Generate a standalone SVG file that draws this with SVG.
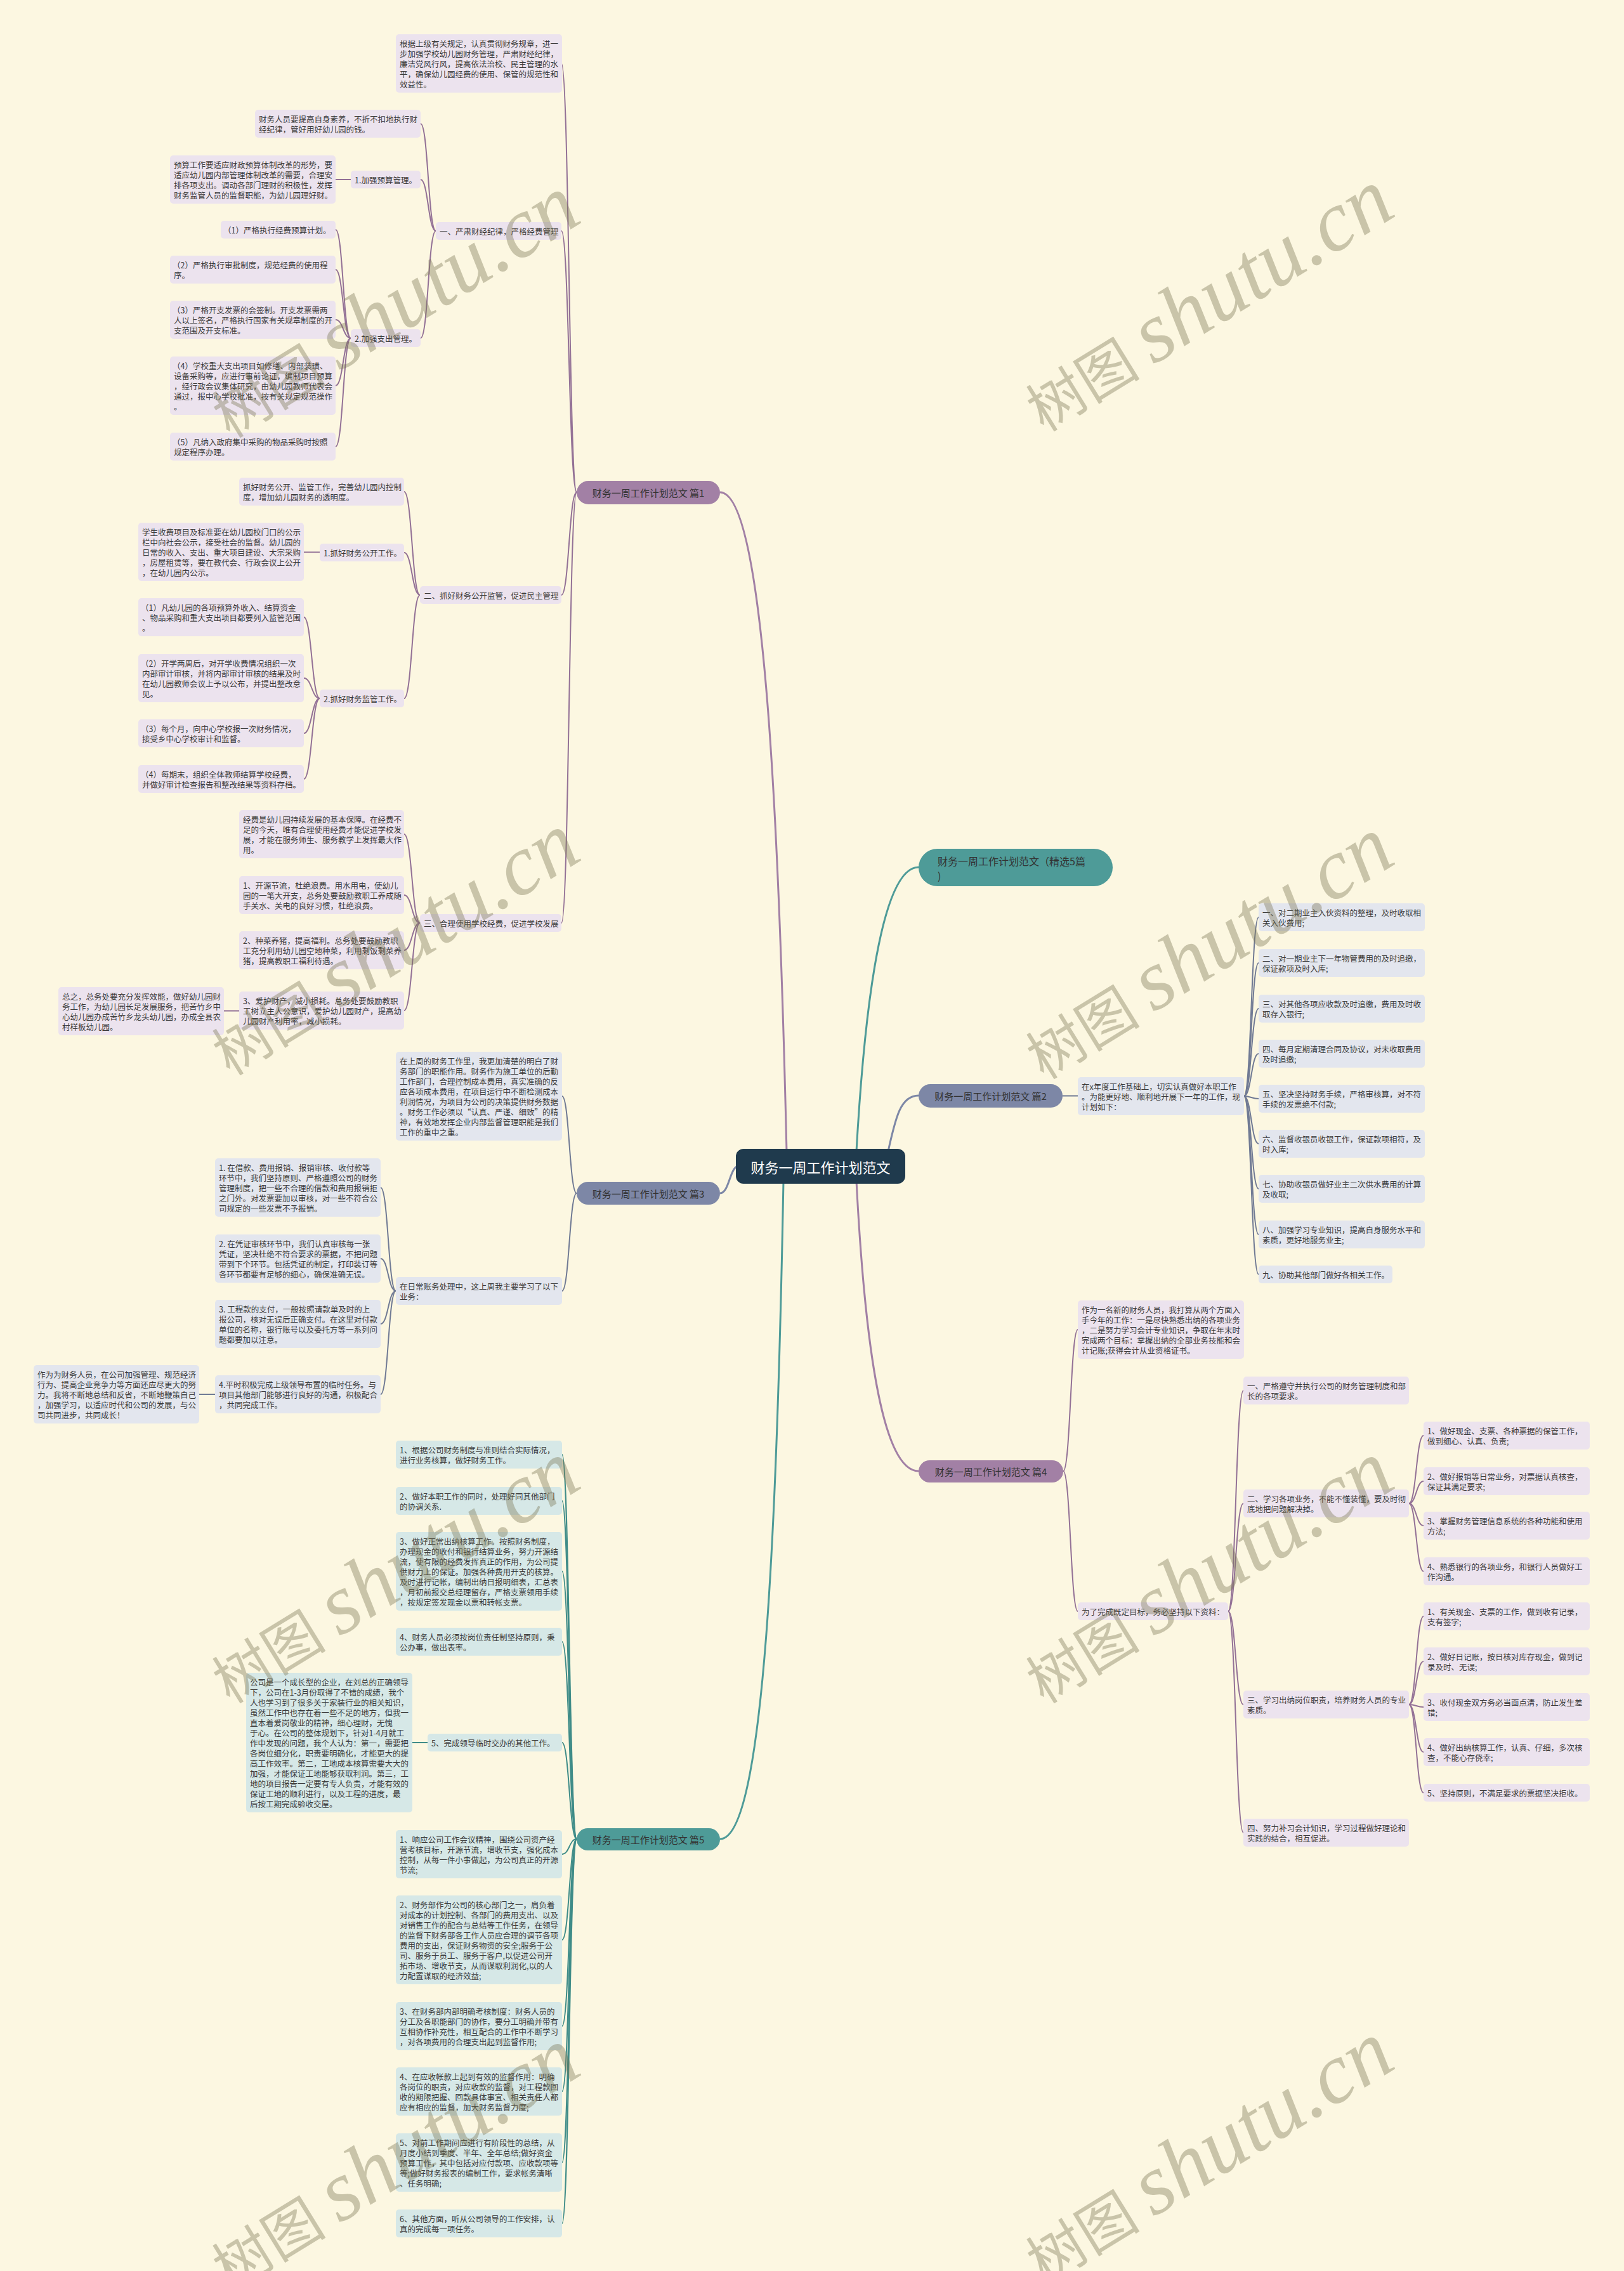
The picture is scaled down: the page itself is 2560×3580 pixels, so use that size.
<svg xmlns="http://www.w3.org/2000/svg" width="2560" height="3580" viewBox="0 0 2560 3580">
<style>
.t{font-family:"Noto Sans CJK SC","Noto Sans",sans-serif;font-size:12.5px;fill:#3a3a3a;dominant-baseline:central}
.bt{font-family:"Noto Sans CJK SC","Noto Sans",sans-serif;font-size:15px;fill:#333;dominant-baseline:central;text-anchor:middle}
.rt{font-family:"Noto Sans CJK SC","Noto Sans",sans-serif;font-size:22px;fill:#fff;dominant-baseline:central;text-anchor:middle}
.m{fill:#ece3ee}.s{fill:#e3e6ee}.g{fill:#d6e8e7}
.cm{fill:none;stroke:#937196;stroke-width:2}
.cs{fill:none;stroke:#707a94;stroke-width:2}
.cg{fill:none;stroke:#3f8c88;stroke-width:2}
.r1{fill:none;stroke-width:3}
.wm{font-family:"Liberation Serif","Noto Sans CJK SC",serif;font-style:italic;fill:#787350;opacity:0.38;text-anchor:middle}
</style>
<rect width="2560" height="3580" fill="#fcf7e1"/>
<g id="connectors">
<path class="r1" stroke="#a280a5" d="M1240 1815 C1228 1300 1205 776 1135 776"/>
<path class="r1" stroke="#7d87a6" d="M1165 1838 C1150 1838 1150 1881 1135 1881"/>
<path class="r1" stroke="#4e9b98" d="M1235 1862 C1225 2400 1205 2899 1135 2899"/>
<path class="r1" stroke="#4e9b98" d="M1350 1815 C1365 1550 1395 1367 1448 1367"/>
<path class="r1" stroke="#7d87a6" d="M1400 1815 C1412 1760 1420 1727 1448 1727"/>
<path class="r1" stroke="#a280a5" d="M1350 1862 C1365 2150 1395 2319 1448 2319"/>
<g class="cm">
<path d="M909 776 C897 776 897 100 885 100"/>
<path d="M909 776 C897 776 897 364 885 364"/>
<path d="M909 776 C897 776 897 938 885 938"/>
<path d="M909 776 C897 776 897 1455 885 1455"/>
<path d="M687 364 C675 364 675 195 663 195"/>
<path d="M687 364 C675 364 675 283 663 283"/>
<path d="M687 364 C675 364 675 533 663 533"/>
<path d="M553 283 H529"/>
<path d="M553 533 C541 533 541 362 529 362"/>
<path d="M553 533 C541 533 541 425 529 425"/>
<path d="M553 533 C541 533 541 504 529 504"/>
<path d="M553 533 C541 533 541 608 529 608"/>
<path d="M553 533 C541 533 541 704 529 704"/>
<path d="M662 938 C649.5 938 649.5 775 637 775"/>
<path d="M662 938 C649.5 938 649.5 871 637 871"/>
<path d="M662 938 C649.5 938 649.5 1101 637 1101"/>
<path d="M504 870.5 H479"/>
<path d="M504 1101 C491.5 1101 491.5 973 479 973"/>
<path d="M504 1101 C491.5 1101 491.5 1069 479 1069"/>
<path d="M504 1101 C491.5 1101 491.5 1156 479 1156"/>
<path d="M504 1101 C491.5 1101 491.5 1228 479 1228"/>
<path d="M662 1455 C649.5 1455 649.5 1315 637 1315"/>
<path d="M662 1455 C649.5 1455 649.5 1411 637 1411"/>
<path d="M662 1455 C649.5 1455 649.5 1498 637 1498"/>
<path d="M662 1455 C649.5 1455 649.5 1593 637 1593"/>
<path d="M377 1593.5 H353"/>
<path d="M1676 2319 C1687.5 2319 1687.5 2096 1699 2096"/>
<path d="M1676 2319 C1687.5 2319 1687.5 2540 1699 2540"/>
<path d="M1936 2540 C1948 2540 1948 2192 1960 2192"/>
<path d="M1936 2540 C1948 2540 1948 2370 1960 2370"/>
<path d="M1936 2540 C1948 2540 1948 2687 1960 2687"/>
<path d="M1936 2540 C1948 2540 1948 2889 1960 2889"/>
<path d="M2221 2370 C2232.5 2370 2232.5 2263 2244 2263"/>
<path d="M2221 2370 C2232.5 2370 2232.5 2335 2244 2335"/>
<path d="M2221 2370 C2232.5 2370 2232.5 2405 2244 2405"/>
<path d="M2221 2370 C2232.5 2370 2232.5 2477 2244 2477"/>
<path d="M2221 2687 C2232.5 2687 2232.5 2548 2244 2548"/>
<path d="M2221 2687 C2232.5 2687 2232.5 2619 2244 2619"/>
<path d="M2221 2687 C2232.5 2687 2232.5 2691 2244 2691"/>
<path d="M2221 2687 C2232.5 2687 2232.5 2762 2244 2762"/>
<path d="M2221 2687 C2232.5 2687 2232.5 2826 2244 2826"/>
</g>
<g class="cs">
<path d="M909 1881 C897.5 1881 897.5 1728 886 1728"/>
<path d="M909 1881 C897.5 1881 897.5 2035 886 2035"/>
<path d="M624 2035 C612 2035 612 1872 600 1872"/>
<path d="M624 2035 C612 2035 612 1984 600 1984"/>
<path d="M624 2035 C612 2035 612 2087 600 2087"/>
<path d="M624 2035 C612 2035 612 2198 600 2198"/>
<path d="M339 2198 H314"/>
<path d="M1675 1727.5 H1699"/>
<path d="M1961 1728 C1972.5 1728 1972.5 1446 1984 1446"/>
<path d="M1961 1728 C1972.5 1728 1972.5 1518 1984 1518"/>
<path d="M1961 1728 C1972.5 1728 1972.5 1590 1984 1590"/>
<path d="M1961 1728 C1972.5 1728 1972.5 1661 1984 1661"/>
<path d="M1961 1728 C1972.5 1728 1972.5 1732 1984 1732"/>
<path d="M1961 1728 C1972.5 1728 1972.5 1803 1984 1803"/>
<path d="M1961 1728 C1972.5 1728 1972.5 1874 1984 1874"/>
<path d="M1961 1728 C1972.5 1728 1972.5 1946 1984 1946"/>
<path d="M1961 1728 C1972.5 1728 1972.5 2009 1984 2009"/>
</g>
<g class="cg">
<path d="M909 2899 C897.5 2899 897.5 2293 886 2293"/>
<path d="M909 2899 C897.5 2899 897.5 2366 886 2366"/>
<path d="M909 2899 C897.5 2899 897.5 2477 886 2477"/>
<path d="M909 2899 C897.5 2899 897.5 2588 886 2588"/>
<path d="M909 2899 C897.5 2899 897.5 2747 886 2747"/>
<path d="M909 2899 C897.5 2899 897.5 2923 886 2923"/>
<path d="M909 2899 C897.5 2899 897.5 3058 886 3058"/>
<path d="M909 2899 C897.5 2899 897.5 3194 886 3194"/>
<path d="M909 2899 C897.5 2899 897.5 3297 886 3297"/>
<path d="M909 2899 C897.5 2899 897.5 3409 886 3409"/>
<path d="M909 2899 C897.5 2899 897.5 3505 886 3505"/>
<path d="M674 2747 H650"/>
</g>
</g>
<g id="root"><rect x="1160" y="1811" width="267" height="55" rx="12" fill="#1f3a4d"/><text class="rt" x="1293.5" y="1838.5">财务一周工作计划范文</text></g>
<g id="b-jx"><rect x="1448" y="1338" width="306" height="59" rx="29.5" fill="#4e9b98"/><text class="bt" style="font-size:16px;text-anchor:start" x="1478" y="1357"><tspan x="1478">财务一周工作计划范文（精选5篇</tspan><tspan x="1478" dy="23">)</tspan></text></g>
<g id="b-1"><rect x="909" y="758" width="226" height="37" rx="18.5" fill="#a280a5"/><text class="bt" x="1022" y="776.5">财务一周工作计划范文 篇1</text></g>
<g id="b-2"><rect x="1448" y="1709" width="227" height="37" rx="18.5" fill="#7d87a6"/><text class="bt" x="1561.5" y="1727.5">财务一周工作计划范文 篇2</text></g>
<g id="b-3"><rect x="909" y="1863" width="226" height="36" rx="18" fill="#7d87a6"/><text class="bt" x="1022" y="1881">财务一周工作计划范文 篇3</text></g>
<g id="b-4"><rect x="1448" y="2302" width="228" height="35" rx="17.5" fill="#a280a5"/><text class="bt" x="1562" y="2319.5">财务一周工作计划范文 篇4</text></g>
<g id="b-5"><rect x="909" y="2882" width="226" height="35" rx="17.5" fill="#4e9b98"/><text class="bt" x="1022" y="2899.5">财务一周工作计划范文 篇5</text></g>

<g id="p1-a"><rect class="m" x="624" y="54" width="262" height="92" rx="5"/><text class="t" x="630" y="68"><tspan x="630">根据上级有关规定，认真贯彻财务规章，进一</tspan><tspan x="630" dy="16">步加强学校幼儿园财务管理，严肃财经纪律，</tspan><tspan x="630" dy="16">廉洁党风行风，提高依法治校、民主管理的水</tspan><tspan x="630" dy="16">平，确保幼儿园经费的使用、保管的规范性和</tspan><tspan x="630" dy="16">效益性。</tspan></text></g>
<g id="p1-b"><rect class="m" x="402" y="173" width="261" height="44" rx="5"/><text class="t" x="408" y="187"><tspan x="408">财务人员要提高自身素养，不折不扣地执行财</tspan><tspan x="408" dy="16">经纪律，管好用好幼儿园的钱。</tspan></text></g>
<g id="p1-c"><rect class="m" x="553" y="269" width="110" height="28" rx="5"/><text class="t" x="559" y="283">1.加强预算管理。</text></g>
<g id="p1-d"><rect class="m" x="268" y="245" width="261" height="76" rx="5"/><text class="t" x="274" y="259"><tspan x="274">预算工作要适应财政预算体制改革的形势，要</tspan><tspan x="274" dy="16">适应幼儿园内部管理体制改革的需要，合理安</tspan><tspan x="274" dy="16">排各项支出。调动各部门理财的积极性，发挥</tspan><tspan x="274" dy="16">财务监管人员的监督职能，为幼儿园理好财。</tspan></text></g>
<g id="p1-e"><rect class="m" x="687" y="350" width="198" height="28" rx="5"/><text class="t" x="693" y="364">一、严肃财经纪律，严格经费管理</text></g>
<g id="p1-f"><rect class="m" x="348" y="348" width="181" height="28" rx="5"/><text class="t" x="352" y="362">（1）严格执行经费预算计划。</text></g>
<g id="p1-g"><rect class="m" x="268" y="403" width="261" height="44" rx="5"/><text class="t" x="272" y="417"><tspan x="272">（2）严格执行审批制度，规范经费的使用程</tspan><tspan x="274" dy="16">序。</tspan></text></g>
<g id="p1-h"><rect class="m" x="268" y="474" width="261" height="60" rx="5"/><text class="t" x="272" y="488"><tspan x="272">（3）严格开支发票的会签制。开支发票需两</tspan><tspan x="274" dy="16">人以上签名，严格执行国家有关规章制度的开</tspan><tspan x="274" dy="16">支范围及开支标准。</tspan></text></g>
<g id="p1-i"><rect class="m" x="553" y="519" width="110" height="28" rx="5"/><text class="t" x="559" y="533">2.加强支出管理。</text></g>
<g id="p1-j"><rect class="m" x="268" y="562" width="261" height="92" rx="5"/><text class="t" x="272" y="576"><tspan x="272">（4）学校重大支出项目如修缮、内部装璜、</tspan><tspan x="274" dy="16">设备采购等，应进行事前论证，编制项目预算</tspan><tspan x="274" dy="16">，经行政会议集体研究，由幼儿园教师代表会</tspan><tspan x="274" dy="16">通过，报中心学校批准，按有关规定规范操作</tspan><tspan x="274" dy="16">。</tspan></text></g>
<g id="p1-k"><rect class="m" x="268" y="682" width="261" height="44" rx="5"/><text class="t" x="272" y="696"><tspan x="272">（5）凡纳入政府集中采购的物品采购时按照</tspan><tspan x="274" dy="16">规定程序办理。</tspan></text></g>
<g id="p1-l"><rect class="m" x="377" y="753" width="260" height="44" rx="5"/><text class="t" x="383" y="767"><tspan x="383">抓好财务公开、监管工作，完善幼儿园内控制</tspan><tspan x="383" dy="16">度，增加幼儿园财务的透明度。</tspan></text></g>
<g id="p1-m"><rect class="m" x="504" y="857" width="133" height="28" rx="5"/><text class="t" x="510" y="871">1.抓好财务公开工作。</text></g>
<g id="p1-n"><rect class="m" x="218" y="824" width="261" height="92" rx="5"/><text class="t" x="224" y="838"><tspan x="224">学生收费项目及标准要在幼儿园校门口的公示</tspan><tspan x="224" dy="16">栏中向社会公示，接受社会的监督。幼儿园的</tspan><tspan x="224" dy="16">日常的收入、支出、重大项目建设、大宗采购</tspan><tspan x="224" dy="16">，房屋租赁等，要在教代会、行政会议上公开</tspan><tspan x="224" dy="16">，在幼儿园内公示。</tspan></text></g>
<g id="p1-2"><rect class="m" x="662" y="924" width="223" height="28" rx="5"/><text class="t" x="668" y="938">二、抓好财务公开监管，促进民主管理</text></g>
<g id="p1-o"><rect class="m" x="218" y="943" width="261" height="60" rx="5"/><text class="t" x="222" y="957"><tspan x="222">（1）凡幼儿园的各项预算外收入、结算资金</tspan><tspan x="224" dy="16">、物品采购和重大支出项目都要列入监管范围</tspan><tspan x="224" dy="16">。</tspan></text></g>
<g id="p1-p"><rect class="m" x="218" y="1031" width="261" height="76" rx="5"/><text class="t" x="222" y="1045"><tspan x="222">（2）开学两周后，对开学收费情况组织一次</tspan><tspan x="224" dy="16">内部审计审核，并将内部审计审核的结果及时</tspan><tspan x="224" dy="16">在幼儿园教师会议上予以公布，并提出整改意</tspan><tspan x="224" dy="16">见。</tspan></text></g>
<g id="p1-q"><rect class="m" x="504" y="1087" width="133" height="28" rx="5"/><text class="t" x="510" y="1101">2.抓好财务监管工作。</text></g>
<g id="p1-r"><rect class="m" x="218" y="1134" width="261" height="44" rx="5"/><text class="t" x="222" y="1148"><tspan x="222">（3）每个月，向中心学校报一次财务情况，</tspan><tspan x="224" dy="16">接受乡中心学校审计和监督。</tspan></text></g>
<g id="p1-s"><rect class="m" x="218" y="1206" width="261" height="44" rx="5"/><text class="t" x="222" y="1220"><tspan x="222">（4）每期末，组织全体教师结算学校经费，</tspan><tspan x="224" dy="16">并做好审计检查报告和整改结果等资料存档。</tspan></text></g>
<g id="p1-t"><rect class="m" x="377" y="1277" width="260" height="76" rx="5"/><text class="t" x="383" y="1291"><tspan x="383">经费是幼儿园持续发展的基本保障。在经费不</tspan><tspan x="383" dy="16">足的今天，唯有合理使用经费才能促进学校发</tspan><tspan x="383" dy="16">展，才能在服务师生、服务教学上发挥最大作</tspan><tspan x="383" dy="16">用。</tspan></text></g>
<g id="p1-u"><rect class="m" x="377" y="1381" width="260" height="60" rx="5"/><text class="t" x="383" y="1395"><tspan x="383">1、开源节流，杜绝浪费。用水用电，使幼儿</tspan><tspan x="383" dy="16">园的一笔大开支，总务处要鼓励教职工养成随</tspan><tspan x="383" dy="16">手关水、关电的良好习惯，杜绝浪费。</tspan></text></g>
<g id="p1-3"><rect class="m" x="662" y="1441" width="223" height="28" rx="5"/><text class="t" x="668" y="1455">三、合理使用学校经费，促进学校发展</text></g>
<g id="p1-w"><rect class="m" x="377" y="1468" width="260" height="60" rx="5"/><text class="t" x="383" y="1482"><tspan x="383">2、种菜养猪，提高福利。总务处要鼓励教职</tspan><tspan x="383" dy="16">工充分利用幼儿园空地种菜，利用剩饭剩菜养</tspan><tspan x="383" dy="16">猪，提高教职工福利待遇。</tspan></text></g>
<g id="p1-x"><rect class="m" x="377" y="1563" width="260" height="60" rx="5"/><text class="t" x="383" y="1577"><tspan x="383">3、爱护财产，减小损耗。总务处要鼓励教职</tspan><tspan x="383" dy="16">工树立主人公意识，爱护幼儿园财产，提高幼</tspan><tspan x="383" dy="16">儿园财产利用率，减小损耗。</tspan></text></g>
<g id="p1-y"><rect class="m" x="92" y="1556" width="261" height="76" rx="5"/><text class="t" x="98" y="1570"><tspan x="98">总之，总务处要充分发挥效能，做好幼儿园财</tspan><tspan x="98" dy="16">务工作，为幼儿园长足发展服务，把苦竹乡中</tspan><tspan x="98" dy="16">心幼儿园办成苦竹乡龙头幼儿园，办成全县农</tspan><tspan x="98" dy="16">村样板幼儿园。</tspan></text></g>

<g id="p3-1"><rect class="s" x="624" y="1658" width="262" height="140" rx="5"/><text class="t" x="630" y="1672"><tspan x="630">在上周的财务工作里，我更加清楚的明白了财</tspan><tspan x="630" dy="16">务部门的职能作用。财务作为施工单位的后勤</tspan><tspan x="630" dy="16">工作部门，合理控制成本费用，真实准确的反</tspan><tspan x="630" dy="16">应各项成本费用，在项目运行中不断检测成本</tspan><tspan x="630" dy="16">利润情况，为项目为公司的决策提供财务数据</tspan><tspan x="630" dy="16">。财务工作必须以“认真、严谨、细致”的精</tspan><tspan x="630" dy="16">神，有效地发挥企业内部监督管理职能是我们</tspan><tspan x="630" dy="16">工作的重中之重。</tspan></text></g>
<g id="p3-4"><rect class="s" x="624" y="2013" width="262" height="44" rx="5"/><text class="t" x="630" y="2027"><tspan x="630">在日常账务处理中，这上周我主要学习了以下</tspan><tspan x="630" dy="16">业务：</tspan></text></g>
<g id="p3-a"><rect class="s" x="339" y="1826" width="261" height="92" rx="5"/><text class="t" x="345" y="1840"><tspan x="345">1. 在借款、费用报销、报销审核、收付款等</tspan><tspan x="345" dy="16">环节中，我们坚持原则、严格遵照公司的财务</tspan><tspan x="345" dy="16">管理制度，把一些不合理的借款和费用报销拒</tspan><tspan x="345" dy="16">之门外。对发票要加以审核，对一些不符合公</tspan><tspan x="345" dy="16">司规定的一些发票不予报销。</tspan></text></g>
<g id="p3-b"><rect class="s" x="339" y="1946" width="261" height="76" rx="5"/><text class="t" x="345" y="1960"><tspan x="345">2. 在凭证审核环节中，我们认真审核每一张</tspan><tspan x="345" dy="16">凭证，坚决杜绝不符合要求的票据，不把问题</tspan><tspan x="345" dy="16">带到下个环节。包括凭证的制定，打印装订等</tspan><tspan x="345" dy="16">各环节都要有足够的细心，确保准确无误。</tspan></text></g>
<g id="p3-c"><rect class="s" x="339" y="2049" width="261" height="76" rx="5"/><text class="t" x="345" y="2063"><tspan x="345">3. 工程款的支付，一般按照请款单及时的上</tspan><tspan x="345" dy="16">报公司，核对无误后正确支付。在这里对付款</tspan><tspan x="345" dy="16">单位的名称，银行账号以及委托方等一系列问</tspan><tspan x="345" dy="16">题都要加以注意。</tspan></text></g>
<g id="p3-d"><rect class="s" x="339" y="2168" width="261" height="60" rx="5"/><text class="t" x="345" y="2182"><tspan x="345">4.平时积极完成上级领导布置的临时任务。与</tspan><tspan x="345" dy="16">项目其他部门能够进行良好的沟通，积极配合</tspan><tspan x="345" dy="16">，共同完成工作。</tspan></text></g>
<g id="p3-e"><rect class="s" x="53" y="2152" width="261" height="92" rx="5"/><text class="t" x="59" y="2166"><tspan x="59">作为为财务人员，在公司加强管理、规范经济</tspan><tspan x="59" dy="16">行为、提高企业竞争力等方面还应尽更大的努</tspan><tspan x="59" dy="16">力。我将不断地总结和反省，不断地鞭策自己</tspan><tspan x="59" dy="16">，加强学习，以适应时代和公司的发展，与公</tspan><tspan x="59" dy="16">司共同进步，共同成长！</tspan></text></g>

<g id="p5-1"><rect class="g" x="624" y="2271" width="262" height="44" rx="5"/><text class="t" x="630" y="2285"><tspan x="630">1、根据公司财务制度与准则结合实际情况，</tspan><tspan x="630" dy="16">进行业务核算，做好财务工作。</tspan></text></g>
<g id="p5-2"><rect class="g" x="624" y="2344" width="262" height="44" rx="5"/><text class="t" x="630" y="2358"><tspan x="630">2、做好本职工作的同时，处理好同其他部门</tspan><tspan x="630" dy="16">的协调关系.</tspan></text></g>
<g id="p5-3"><rect class="g" x="624" y="2415" width="262" height="124" rx="5"/><text class="t" x="630" y="2429"><tspan x="630">3、做好正常出纳核算工作。按照财务制度，</tspan><tspan x="630" dy="16">办理现金的收付和银行结算业务，努力开源结</tspan><tspan x="630" dy="16">流，使有限的经费发挥真正的作用，为公司提</tspan><tspan x="630" dy="16">供财力上的保证。加强各种费用开支的核算。</tspan><tspan x="630" dy="16">及时进行记帐，编制出纳日报明细表，汇总表</tspan><tspan x="630" dy="16">，月初前报交总经理留存，严格支票领用手续</tspan><tspan x="630" dy="16">，按规定签发现金以票和转帐支票。</tspan></text></g>
<g id="p5-4"><rect class="g" x="624" y="2566" width="262" height="44" rx="5"/><text class="t" x="630" y="2580"><tspan x="630">4、财务人员必须按岗位责任制坚持原则，秉</tspan><tspan x="630" dy="16">公办事，做出表率。</tspan></text></g>
<g id="p5-5"><rect class="g" x="674" y="2733" width="212" height="28" rx="5"/><text class="t" x="680" y="2747">5、完成领导临时交办的其他工作。</text></g>
<g id="p5-6"><rect class="g" x="388" y="2637" width="262" height="220" rx="5"/><text class="t" x="394" y="2651"><tspan x="394">公司是一个成长型的企业，在刘总的正确领导</tspan><tspan x="394" dy="16">下，公司在1-3月份取得了不错的成绩，我个</tspan><tspan x="394" dy="16">人也学习到了很多关于家装行业的相关知识，</tspan><tspan x="394" dy="16">虽然工作中也存在着一些不足的地方，但我一</tspan><tspan x="394" dy="16">直本着爱岗敬业的精神，细心理财，无愧</tspan><tspan x="394" dy="16">于心。在公司的整体规划下，针对1-4月就工</tspan><tspan x="394" dy="16">作中发现的问题，我个人认为：第一，需要把</tspan><tspan x="394" dy="16">各岗位细分化，职责要明确化，才能更大的提</tspan><tspan x="394" dy="16">高工作效率。第二，工地成本核算需要大大的</tspan><tspan x="394" dy="16">加强，才能保证工地能够获取利润。第三，工</tspan><tspan x="394" dy="16">地的项目报告一定要有专人负责，才能有效的</tspan><tspan x="394" dy="16">保证工地的顺利进行，以及工程的进度，最</tspan><tspan x="394" dy="16">后按工期完成验收交屋。</tspan></text></g>
<g id="p5-7"><rect class="g" x="624" y="2885" width="262" height="76" rx="5"/><text class="t" x="630" y="2899"><tspan x="630">1、响应公司工作会议精神，围绕公司资产经</tspan><tspan x="630" dy="16">营考核目标，开源节流，增收节支，强化成本</tspan><tspan x="630" dy="16">控制，从每一件小事做起，为公司真正的开源</tspan><tspan x="630" dy="16">节流;</tspan></text></g>
<g id="p5-8"><rect class="g" x="624" y="2988" width="262" height="140" rx="5"/><text class="t" x="630" y="3002"><tspan x="630">2、财务部作为公司的核心部门之一，肩负着</tspan><tspan x="630" dy="16">对成本的计划控制、各部门的费用支出、以及</tspan><tspan x="630" dy="16">对销售工作的配合与总结等工作任务，在领导</tspan><tspan x="630" dy="16">的监督下财务部各工作人员应合理的调节各项</tspan><tspan x="630" dy="16">费用的支出，保证财务物资的安全;服务于公</tspan><tspan x="630" dy="16">司、服务于员工、服务于客户,以促进公司开</tspan><tspan x="630" dy="16">拓市场、增收节支，从而谋取利润化,以的人</tspan><tspan x="630" dy="16">力配置谋取的经济效益;</tspan></text></g>
<g id="p5-9"><rect class="g" x="624" y="3156" width="262" height="76" rx="5"/><text class="t" x="630" y="3170"><tspan x="630">3、在财务部内部明确考核制度：财务人员的</tspan><tspan x="630" dy="16">分工及各职能部门的协作，要分工明确并带有</tspan><tspan x="630" dy="16">互相协作补充性，相互配合的工作中不断学习</tspan><tspan x="630" dy="16">，对各项费用的合理支出起到监督作用;</tspan></text></g>
<g id="p5-10"><rect class="g" x="624" y="3259" width="262" height="76" rx="5"/><text class="t" x="630" y="3273"><tspan x="630">4、在应收帐款上起到有效的监督作用：明确</tspan><tspan x="630" dy="16">各岗位的职责，对应收款的监督，对工程款回</tspan><tspan x="630" dy="16">收的期限把握、回款具体事宜、相关责任人都</tspan><tspan x="630" dy="16">应有相应的监督，加大财务监督力度;</tspan></text></g>
<g id="p5-11"><rect class="g" x="624" y="3363" width="262" height="92" rx="5"/><text class="t" x="630" y="3377"><tspan x="630">5、对前工作期间应进行有阶段性的总结，从</tspan><tspan x="630" dy="16">月度小结到季度、半年、全年总结;做好资金</tspan><tspan x="630" dy="16">预算工作，其中包括对应付款项、应收款项等</tspan><tspan x="630" dy="16">等;做好财务报表的编制工作，要求帐务清晰</tspan><tspan x="630" dy="16">、任务明确;</tspan></text></g>
<g id="p5-12"><rect class="g" x="624" y="3483" width="262" height="44" rx="5"/><text class="t" x="630" y="3497"><tspan x="630">6、其他方面，听从公司领导的工作安排，认</tspan><tspan x="630" dy="16">真的完成每一项任务。</tspan></text></g>

<g id="p2-0"><rect class="s" x="1699" y="1698" width="262" height="60" rx="5"/><text class="t" x="1705" y="1712"><tspan x="1705">在x年度工作基础上，切实认真做好本职工作</tspan><tspan x="1705" dy="16">。为能更好地、顺利地开展下一年的工作，现</tspan><tspan x="1705" dy="16">计划如下：</tspan></text></g>
<g id="p2-1"><rect class="s" x="1984" y="1424" width="262" height="44" rx="5"/><text class="t" x="1990" y="1438"><tspan x="1990">一、对二期业主入伙资料的整理，及时收取相</tspan><tspan x="1990" dy="16">关入伙费用;</tspan></text></g>
<g id="p2-2"><rect class="s" x="1984" y="1496" width="262" height="44" rx="5"/><text class="t" x="1990" y="1510"><tspan x="1990">二、对一期业主下一年物管费用的及时追缴，</tspan><tspan x="1990" dy="16">保证款项及时入库;</tspan></text></g>
<g id="p2-3"><rect class="s" x="1984" y="1568" width="262" height="44" rx="5"/><text class="t" x="1990" y="1582"><tspan x="1990">三、对其他各项应收款及时追缴，费用及时收</tspan><tspan x="1990" dy="16">取存入银行;</tspan></text></g>
<g id="p2-4"><rect class="s" x="1984" y="1639" width="262" height="44" rx="5"/><text class="t" x="1990" y="1653"><tspan x="1990">四、每月定期清理合同及协议，对未收取费用</tspan><tspan x="1990" dy="16">及时追缴;</tspan></text></g>
<g id="p2-5"><rect class="s" x="1984" y="1710" width="262" height="44" rx="5"/><text class="t" x="1990" y="1724"><tspan x="1990">五、坚决坚持财务手续，严格审核算，对不符</tspan><tspan x="1990" dy="16">手续的发票绝不付款;</tspan></text></g>
<g id="p2-6"><rect class="s" x="1984" y="1781" width="262" height="44" rx="5"/><text class="t" x="1990" y="1795"><tspan x="1990">六、监督收银员收银工作，保证款项相符，及</tspan><tspan x="1990" dy="16">时入库;</tspan></text></g>
<g id="p2-7"><rect class="s" x="1984" y="1852" width="262" height="44" rx="5"/><text class="t" x="1990" y="1866"><tspan x="1990">七、协助收银员做好业主二次供水费用的计算</tspan><tspan x="1990" dy="16">及收取;</tspan></text></g>
<g id="p2-8"><rect class="s" x="1984" y="1924" width="262" height="44" rx="5"/><text class="t" x="1990" y="1938"><tspan x="1990">八、加强学习专业知识，提高自身服务水平和</tspan><tspan x="1990" dy="16">素质，更好地服务业主;</tspan></text></g>
<g id="p2-9"><rect class="s" x="1984" y="1995" width="211" height="28" rx="5"/><text class="t" x="1990" y="2009">九、协助其他部门做好各相关工作。</text></g>

<g id="p4-0"><rect class="m" x="1699" y="2050" width="262" height="92" rx="5"/><text class="t" x="1705" y="2064"><tspan x="1705">作为一名新的财务人员，我打算从两个方面入</tspan><tspan x="1705" dy="16">手今年的工作：一是尽快熟悉出纳的各项业务</tspan><tspan x="1705" dy="16">，二是努力学习会计专业知识，争取在年末时</tspan><tspan x="1705" dy="16">完成两个目标：掌握出纳的全部业务技能和会</tspan><tspan x="1705" dy="16">计记账;获得会计从业资格证书。</tspan></text></g>
<g id="p4-1"><rect class="m" x="1699" y="2526" width="237" height="28" rx="5"/><text class="t" x="1705" y="2540">为了完成既定目标，务必坚持以下资料：</text></g>
<g id="p4-e1"><rect class="m" x="1960" y="2170" width="261" height="44" rx="5"/><text class="t" x="1966" y="2184"><tspan x="1966">一、严格遵守并执行公司的财务管理制度和部</tspan><tspan x="1966" dy="16">长的各项要求。</tspan></text></g>
<g id="p4-e2"><rect class="m" x="1960" y="2348" width="261" height="44" rx="5"/><text class="t" x="1966" y="2362"><tspan x="1966">二、学习各项业务，不能不懂装懂，要及时彻</tspan><tspan x="1966" dy="16">底地把问题解决掉。</tspan></text></g>
<g id="p4-e3"><rect class="m" x="1960" y="2665" width="261" height="44" rx="5"/><text class="t" x="1966" y="2679"><tspan x="1966">三、学习出纳岗位职责，培养财务人员的专业</tspan><tspan x="1966" dy="16">素质。</tspan></text></g>
<g id="p4-e4"><rect class="m" x="1960" y="2867" width="261" height="44" rx="5"/><text class="t" x="1966" y="2881"><tspan x="1966">四、努力补习会计知识，学习过程做好理论和</tspan><tspan x="1966" dy="16">实践的结合，相互促进。</tspan></text></g>
<g id="p4-f1"><rect class="m" x="2244" y="2241" width="262" height="44" rx="5"/><text class="t" x="2250" y="2255"><tspan x="2250">1、做好现金、支票、各种票据的保管工作，</tspan><tspan x="2250" dy="16">做到细心、认真、负责;</tspan></text></g>
<g id="p4-f2"><rect class="m" x="2244" y="2313" width="262" height="44" rx="5"/><text class="t" x="2250" y="2327"><tspan x="2250">2、做好报销等日常业务，对票据认真核查，</tspan><tspan x="2250" dy="16">保证其满足要求;</tspan></text></g>
<g id="p4-f3"><rect class="m" x="2244" y="2383" width="262" height="44" rx="5"/><text class="t" x="2250" y="2397"><tspan x="2250">3、掌握财务管理信息系统的各种功能和使用</tspan><tspan x="2250" dy="16">方法;</tspan></text></g>
<g id="p4-f4"><rect class="m" x="2244" y="2455" width="262" height="44" rx="5"/><text class="t" x="2250" y="2469"><tspan x="2250">4、熟悉银行的各项业务，和银行人员做好工</tspan><tspan x="2250" dy="16">作沟通。</tspan></text></g>
<g id="p4-g1"><rect class="m" x="2244" y="2526" width="262" height="44" rx="5"/><text class="t" x="2250" y="2540"><tspan x="2250">1、有关现金、支票的工作，做到收有记录，</tspan><tspan x="2250" dy="16">支有签字;</tspan></text></g>
<g id="p4-g2"><rect class="m" x="2244" y="2597" width="262" height="44" rx="5"/><text class="t" x="2250" y="2611"><tspan x="2250">2、做好日记账，按日核对库存现金，做到记</tspan><tspan x="2250" dy="16">录及时、无误;</tspan></text></g>
<g id="p4-g3"><rect class="m" x="2244" y="2669" width="262" height="44" rx="5"/><text class="t" x="2250" y="2683"><tspan x="2250">3、收付现金双方务必当面点清，防止发生差</tspan><tspan x="2250" dy="16">错;</tspan></text></g>
<g id="p4-g4"><rect class="m" x="2244" y="2740" width="262" height="44" rx="5"/><text class="t" x="2250" y="2754"><tspan x="2250">4、做好出纳核算工作，认真、仔细，多次核</tspan><tspan x="2250" dy="16">查，不能心存侥幸;</tspan></text></g>
<g id="p4-g5"><rect class="m" x="2244" y="2812" width="262" height="28" rx="5"/><text class="t" x="2250" y="2826">5、坚持原则，不满足要求的票据坚决拒收。</text></g>

<g id="watermark">
<text class="wm" x="642" y="520" transform="rotate(-31.6 642 520)"><tspan font-size="90" font-style="normal">树图 </tspan><tspan font-size="135">shutu.cn</tspan></text>
<text class="wm" x="1925" y="510" transform="rotate(-31.6 1925 510)"><tspan font-size="90" font-style="normal">树图 </tspan><tspan font-size="135">shutu.cn</tspan></text>
<text class="wm" x="642" y="1525" transform="rotate(-31.6 642 1525)"><tspan font-size="90" font-style="normal">树图 </tspan><tspan font-size="135">shutu.cn</tspan></text>
<text class="wm" x="1925" y="1531" transform="rotate(-31.6 1925 1531)"><tspan font-size="90" font-style="normal">树图 </tspan><tspan font-size="135">shutu.cn</tspan></text>
<text class="wm" x="642" y="2515" transform="rotate(-31.6 642 2515)"><tspan font-size="90" font-style="normal">树图 </tspan><tspan font-size="135">shutu.cn</tspan></text>
<text class="wm" x="1925" y="2515" transform="rotate(-31.6 1925 2515)"><tspan font-size="90" font-style="normal">树图 </tspan><tspan font-size="135">shutu.cn</tspan></text>
<text class="wm" x="642" y="3440" transform="rotate(-31.6 642 3440)"><tspan font-size="90" font-style="normal">树图 </tspan><tspan font-size="135">shutu.cn</tspan></text>
<text class="wm" x="1925" y="3430" transform="rotate(-31.6 1925 3430)"><tspan font-size="90" font-style="normal">树图 </tspan><tspan font-size="135">shutu.cn</tspan></text>
</g>
</svg>
